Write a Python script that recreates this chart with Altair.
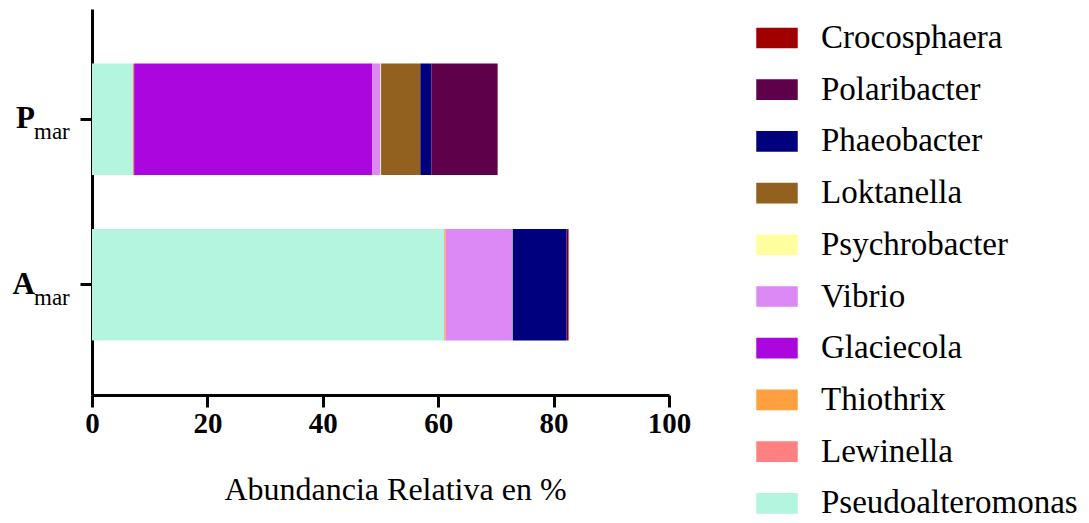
import altair as alt
import pandas as pd

# Samples (top to bottom) and their label parts
samples = ["P", "A"]
sample_letters = ["P", "A"]
sample_subscripts = ["mar", "mar"]

# Genera in stacking order (left to right within a bar)
genera = [
    "Pseudoalteromonas", "Lewinella", "Thiothrix", "Glaciecola", "Vibrio",
    "Psychrobacter", "Loktanella", "Phaeobacter", "Polaribacter", "Crocosphaera",
]
genus_colors = [
    "#b4f5df", "#ff8080", "#ffa040", "#ac06df", "#dc89f5",
    "#ffffa0", "#93611f", "#00007f", "#5f004b", "#a10000",
]

# Relative abundance (%) per genus, same order as `genera`
p_mar = [7.1, 0.2, 0.0, 41.3, 1.4, 0.1, 6.8, 1.9, 11.5, 0.0]
a_mar = [61.0, 0.1, 0.2, 0.0, 11.5, 0.1, 0.0, 9.3, 0.3, 0.1]

rows = []
for sample, values in zip(samples, [p_mar, a_mar]):
    for i, (g, v) in enumerate(zip(genera, values)):
        rows.append({"sample": sample, "genus": g, "value": v, "idx": i})
df = pd.DataFrame(rows)

labels_df = pd.DataFrame({
    "sample": samples,
    "letter": sample_letters,
    "sub": sample_subscripts,
})

legend_order = list(reversed(genera))
legend_colors = list(reversed(genus_colors))

FONT = "Liberation Serif"

y_enc = alt.Y(
    "sample:N",
    sort=samples,
    scale=alt.Scale(paddingInner=0.327, paddingOuter=0.33),
    axis=alt.Axis(
        labels=False, title=None, tickSize=12, tickWidth=3, domainWidth=3,
        domainColor="black", tickColor="black",
    ),
)

bars = alt.Chart(df).mark_bar().encode(
    x=alt.X(
        "value:Q",
        stack="zero",
        scale=alt.Scale(domain=[0, 100], nice=False),
        axis=alt.Axis(
            values=[0, 20, 40, 60, 80, 100],
            title="Abundancia Relativa en %",
            titleFont=FONT, titleFontSize=32, titleFontWeight="normal",
            titleColor="black", titlePadding=36, titleX=303,
            labelFont=FONT, labelFontSize=29, labelFontWeight="bold",
            labelColor="black", labelPadding=2, labelFlush=False,
            tickSize=12, tickWidth=3, domainWidth=3,
            domainColor="black", tickColor="black", grid=False,
        ),
    ),
    y=y_enc,
    color=alt.Color(
        "genus:N",
        scale=alt.Scale(domain=legend_order, range=legend_colors),
        sort=legend_order,
        legend=alt.Legend(
            title=None, orient="none", legendX=664, legendY=8,
            symbolType="M-1,-0.5H1V0.5H-1Z", symbolSize=1720,
            symbolStrokeWidth=0, labelFont=FONT, labelFontSize=33,
            labelColor="black", labelOffset=23, rowPadding=13.7, padding=0,
            labelLimit=400,
        ),
    ),
    order=alt.Order("idx:Q", sort="ascending"),
)

letters = alt.Chart(labels_df).mark_text(
    align="right", baseline="middle", font=FONT, fontSize=31,
    fontWeight="bold", color="black",
).encode(y=alt.Y("sample:N", sort=samples), x=alt.value(-57), text="letter:N")

subs = alt.Chart(labels_df).mark_text(
    align="left", baseline="middle", font=FONT, fontSize=23, color="black",
    dy=13,
).encode(y=alt.Y("sample:N", sort=samples), x=alt.value(-58), text="sub:N")

chart = (
    alt.layer(bars, letters, subs)
    .properties(
        width=577, height=386,
        autosize=alt.AutoSizeParams(type="none"),
        padding={"left": 92, "top": 9, "right": 420, "bottom": 128},
    )
    .configure_view(stroke=None)
)

chart.save("out.html", embed_options={"renderer": "svg", "actions": False})
